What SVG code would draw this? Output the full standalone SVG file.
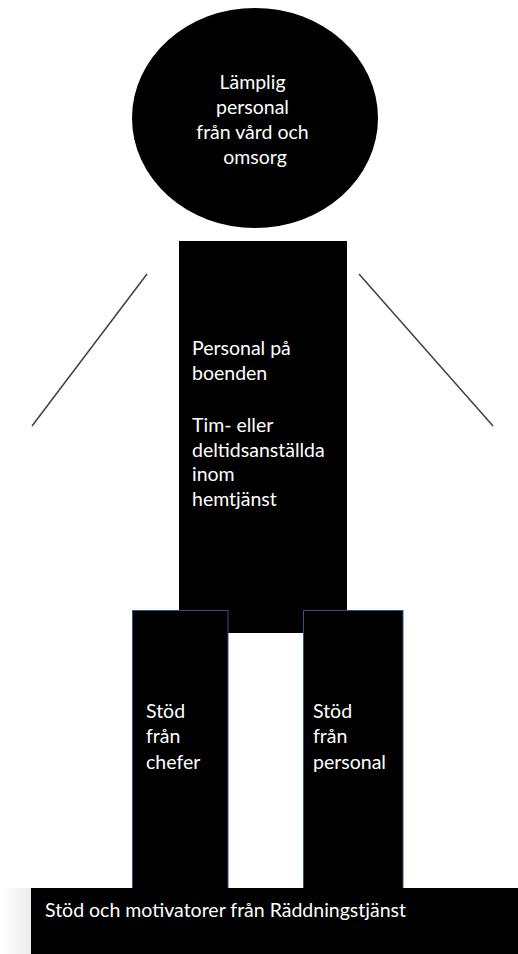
<svg xmlns="http://www.w3.org/2000/svg" width="518" height="954" viewBox="0 0 518 954">
<defs>
<style>
.shape{fill:#000000;}
.leg{fill:#000000;stroke:#2f528f;stroke-width:1;}
.lbl{fill:#ffffff;font-family:Lato,"Open Sans","Liberation Sans",sans-serif;font-size:19.5px;}
.conn{stroke:#404040;stroke-width:1.5;fill:none;}
</style>
<linearGradient id="shade" x1="0" y1="0" x2="1" y2="0">
<stop offset="0" stop-color="#ffffff"/>
<stop offset="1" stop-color="#ececec"/>
</linearGradient>
</defs>
<rect x="0" y="0" width="518" height="954" fill="#ffffff"/>
<rect x="0" y="888" width="31" height="66" fill="url(#shade)"/>
<g id="connectors">
<line class="conn" x1="147" y1="274" x2="32" y2="426"/>
<line class="conn" x1="359" y1="274" x2="493" y2="426"/>
</g>
<g id="head">
<ellipse class="shape" cx="255" cy="118" rx="123" ry="110"/>
<text class="lbl" text-anchor="middle">
<tspan x="255" y="89">Lämplig</tspan>
<tspan x="255" y="114">personal</tspan>
<tspan x="255" y="139">från vård och</tspan>
<tspan x="255" y="164">omsorg</tspan>
</text>
</g>
<g id="body">
<rect class="shape" x="179" y="241" width="168" height="392"/>
<text class="lbl">
<tspan x="192" y="355">Personal på</tspan>
<tspan x="192" y="380">boenden</tspan>
<tspan x="192" y="432">Tim- eller</tspan>
<tspan x="192" y="457">deltidsanställda</tspan>
<tspan x="192" y="481">inom</tspan>
<tspan x="192" y="506">hemtjänst</tspan>
</text>
</g>
<g id="leg-left">
<rect class="leg" x="132.5" y="610.5" width="95.5" height="278"/>
<text class="lbl">
<tspan x="146" y="718">Stöd</tspan>
<tspan x="146" y="743">från</tspan>
<tspan x="146" y="769">chefer</tspan>
</text>
</g>
<g id="leg-right">
<rect class="leg" x="303.5" y="610.5" width="99.5" height="278"/>
<text class="lbl">
<tspan x="313" y="718">Stöd</tspan>
<tspan x="313" y="743">från</tspan>
<tspan x="313" y="769">personal</tspan>
</text>
</g>
<g id="base">
<rect class="shape" x="31" y="888" width="487" height="66"/>
<text class="lbl" x="45" y="917">Stöd och motivatorer från Räddningstjänst</text>
</g>
</svg>
